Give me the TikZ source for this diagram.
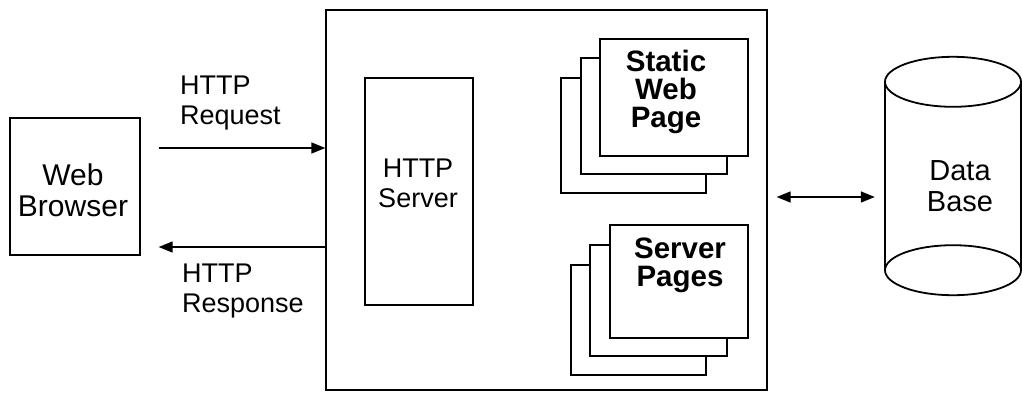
\documentclass[tikz,border=0pt]{standalone}
\usepackage{fontspec}
\setmainfont{Liberation Sans}
\usetikzlibrary{arrows.meta}
\begin{document}
\begin{tikzpicture}[x=1pt,y=-1pt,
  box/.style={draw, line width=1.3pt, fill=white, inner sep=0pt},
  txt/.style={font=\fontsize{27}{30}\selectfont, inner sep=0pt},
  bigtxt/.style={font=\fontsize{30}{31}\selectfont, inner sep=0pt},
  btxt/.style={font=\bfseries\fontsize{29.5}{28}\selectfont, align=center, inner sep=0pt},
  flow/.style={line width=1.5pt, -{Triangle[length=14pt,width=11pt]}},
  both/.style={line width=1.5pt, {Triangle[length=14pt,width=11pt]}-{Triangle[length=14pt,width=11pt]}},
  dbline/.style={line width=1.8pt},
]
\useasboundingbox (0,0) rectangle (1022,392);

% client
\node[box, minimum width=130pt, minimum height=137pt] (browser) at (75,186.5) {};
\node[bigtxt, align=center] (browsertxt) at (73,190) {Web\\Browser};

% web server container
\node[box, minimum width=441pt, minimum height=380pt] (server) at (546.5,200) {};
\node[box, minimum width=108pt, minimum height=227pt] (http) at (419,191.5) {};
\node[txt, align=center] (httptxt) at (418,183) {HTTP\\Server};

% stack of static pages
\node[box, minimum width=145pt, minimum height=115pt] (static3) at (633.5,135.5) {};
\node[box, minimum width=146pt, minimum height=116pt] (static2) at (654,116) {};
\node[box, minimum width=148pt, minimum height=117pt] (static1) at (674,97.5) {};
\node[btxt] (statictxt) at (666,92) {Static\\Web\\Page};

% stack of server pages
\node[box, minimum width=135pt, minimum height=110pt] (dyn3) at (638.5,320) {};
\node[box, minimum width=137pt, minimum height=111pt] (dyn2) at (658.5,300.5) {};
\node[box, minimum width=138pt, minimum height=113pt] (dyn1) at (679,281.5) {};
\node[btxt] (dyntxt) at (680,265) {Server\\Pages};

% database cylinder
\node[minimum width=136pt, minimum height=238pt, inner sep=0pt] (db) at (953,176) {};
\draw[dbline] ([yshift=-25pt]db.north west) -- ([yshift=25pt]db.south west);
\draw[dbline] ([yshift=-25pt]db.north east) -- ([yshift=25pt]db.south east);
\draw[dbline, fill=white] ([yshift=-25pt]db.north) ellipse [x radius=68pt, y radius=25pt];
\draw[dbline, fill=white] ([yshift=25pt]db.south) ellipse [x radius=68pt, y radius=25pt];
\node[font=\fontsize{29}{31}\selectfont, inner sep=0pt, align=center] (dbtxt) at (960,186) {Data\\Base};

% request / response
\coordinate (reqS) at ([xshift=18pt]browser.east |- 0,148);
\coordinate (reqE) at (server.west |- 0,148);
\draw[flow] (reqS) -- (reqE);
\coordinate (resS) at (server.west |- 0,247);
\coordinate (resE) at ([xshift=18pt]browser.east |- 0,247);
\draw[flow] (resS) -- (resE);
\node[txt, align=left, anchor=west] (reqtxt) at (180,103) {HTTP\\Request};
\node[txt, align=left, anchor=west] (restxt) at (182,291) {HTTP\\Response};

% server <-> database
\draw[both, shorten <=9pt, shorten >=10pt] (server.east |- 0,197) -- (db.west |- 0,197);
\end{tikzpicture}
\end{document}
